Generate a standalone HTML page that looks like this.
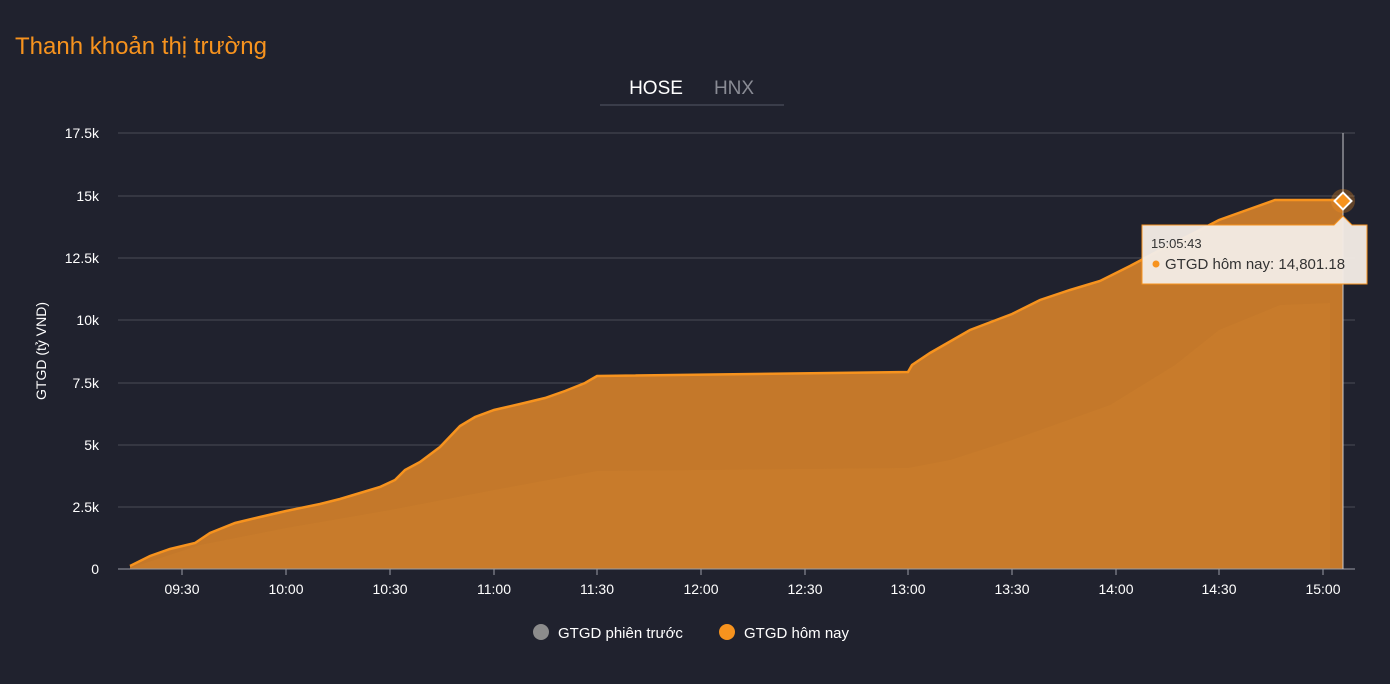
<!DOCTYPE html>
<html><head><meta charset="utf-8"><style>
body{margin:0;width:1390px;height:684px;background:#20222e;font-family:"Liberation Sans",sans-serif;overflow:hidden;position:relative}
.t{position:absolute;left:15px;top:33px;color:#f7931e;font-size:24px}
</style></head><body>
<div class="t">Thanh khoản thị trường</div>
<svg width="1390" height="684" style="position:absolute;left:0;top:0" font-family="Liberation Sans, sans-serif">
<text x="656" y="94" fill="#fff" font-size="19" text-anchor="middle">HOSE</text>
<text x="734" y="94" fill="#8a8c95" font-size="19" text-anchor="middle">HNX</text>
<line x1="600" y1="105" x2="784" y2="105" stroke="#555865" stroke-width="1"/>
<g stroke="#4a4c57" stroke-width="1">
<line x1="118" y1="133" x2="1355" y2="133"/><line x1="118" y1="196" x2="1355" y2="196"/>
<line x1="118" y1="258" x2="1355" y2="258"/><line x1="118" y1="320" x2="1355" y2="320"/>
<line x1="118" y1="383" x2="1355" y2="383"/><line x1="118" y1="445" x2="1355" y2="445"/>
<line x1="118" y1="507" x2="1355" y2="507"/></g>
<g fill="#fff" font-size="14" text-anchor="end">
<text x="99" y="138">17.5k</text><text x="99" y="201">15k</text><text x="99" y="263">12.5k</text>
<text x="99" y="325">10k</text><text x="99" y="388">7.5k</text><text x="99" y="450">5k</text>
<text x="99" y="512">2.5k</text><text x="99" y="574">0</text></g>
<text transform="translate(46,351) rotate(-90)" fill="#fff" font-size="14" text-anchor="middle">GTGD (tỷ VND)</text>
<path d="M130,566 L150,556 L170,549 L195,543 L210,533 L235,523 L260,517 L286,511 L320,504 L340,499 L360,493 L380,487 L395,480 L405,470 L420,462 L440,447 L460,426 L475,417 L494,410 L520,404 L545,398 L565,391 L585,383 L597,376 L908,372 L912,365 L930,353 L970,330 L1012,314 L1040,300 L1070,290 L1100,281 L1130,266 L1160,250 L1190,235 L1219,220 L1275,200 L1343,200 L1343,569 L130,569Z" fill="#c4782a"/>
<path d="M130,568 L200,545 L286,528 L390,510 L494,490 L597,471 L700,470 L908,468 L950,460 L1012,440 L1110,405 L1175,365 L1219,330 L1280,305 L1330,303 L1330,569 L130,569Z" fill="#cf8430" opacity="0.3"/>
<path d="M130,566 L150,556 L170,549 L195,543 L210,533 L235,523 L260,517 L286,511 L320,504 L340,499 L360,493 L380,487 L395,480 L405,470 L420,462 L440,447 L460,426 L475,417 L494,410 L520,404 L545,398 L565,391 L585,383 L597,376 L908,372 L912,365 L930,353 L970,330 L1012,314 L1040,300 L1070,290 L1100,281 L1130,266 L1160,250 L1190,235 L1219,220 L1275,200 L1343,200" fill="none" stroke="#f7931e" stroke-width="2.5"/>
<line x1="118" y1="569" x2="1355" y2="569" stroke="#9a9ca5"/>
<g stroke="#9a9ca5">
<line x1="182" y1="569" x2="182" y2="575"/><line x1="286" y1="569" x2="286" y2="575"/><line x1="390" y1="569" x2="390" y2="575"/><line x1="494" y1="569" x2="494" y2="575"/><line x1="597" y1="569" x2="597" y2="575"/><line x1="701" y1="569" x2="701" y2="575"/><line x1="805" y1="569" x2="805" y2="575"/><line x1="908" y1="569" x2="908" y2="575"/><line x1="1012" y1="569" x2="1012" y2="575"/><line x1="1116" y1="569" x2="1116" y2="575"/><line x1="1219" y1="569" x2="1219" y2="575"/><line x1="1323" y1="569" x2="1323" y2="575"/></g>
<g fill="#fff" font-size="14" text-anchor="middle">
<text x="182" y="594">09:30</text><text x="286" y="594">10:00</text><text x="390" y="594">10:30</text><text x="494" y="594">11:00</text><text x="597" y="594">11:30</text><text x="701" y="594">12:00</text><text x="805" y="594">12:30</text><text x="908" y="594">13:00</text><text x="1012" y="594">13:30</text><text x="1116" y="594">14:00</text><text x="1219" y="594">14:30</text><text x="1323" y="594">15:00</text></g>
<line x1="1343" y1="133" x2="1343" y2="569" stroke="#c8c8cc" stroke-width="1"/>
<circle cx="1343" cy="201" r="12" fill="#f7931e" opacity="0.3"/>
<rect x="1337" y="195" width="12" height="12" fill="#f7931e" stroke="#fff" stroke-width="2" transform="rotate(45 1343 201)"/>
<path d="M1142,225 L1334,225 L1343,216 L1352,225 L1367,225 L1367,284 L1142,284Z" fill="#f2ebe5" fill-opacity="0.96" stroke="#f7931e" stroke-width="1"/>
<text x="1151" y="248" fill="#333" font-size="13">15:05:43</text>
<circle cx="1156" cy="264" r="3.5" fill="#f7931e"/>
<text x="1165" y="269" fill="#333" font-size="15">GTGD hôm nay: 14,801.18</text>
<circle cx="541" cy="632" r="8" fill="#8c8c8c"/>
<text x="558" y="638" fill="#fff" font-size="15">GTGD phiên trước</text>
<circle cx="727" cy="632" r="8" fill="#f7931e"/>
<text x="744" y="638" fill="#fff" font-size="15">GTGD hôm nay</text>
</svg>
</body></html>
